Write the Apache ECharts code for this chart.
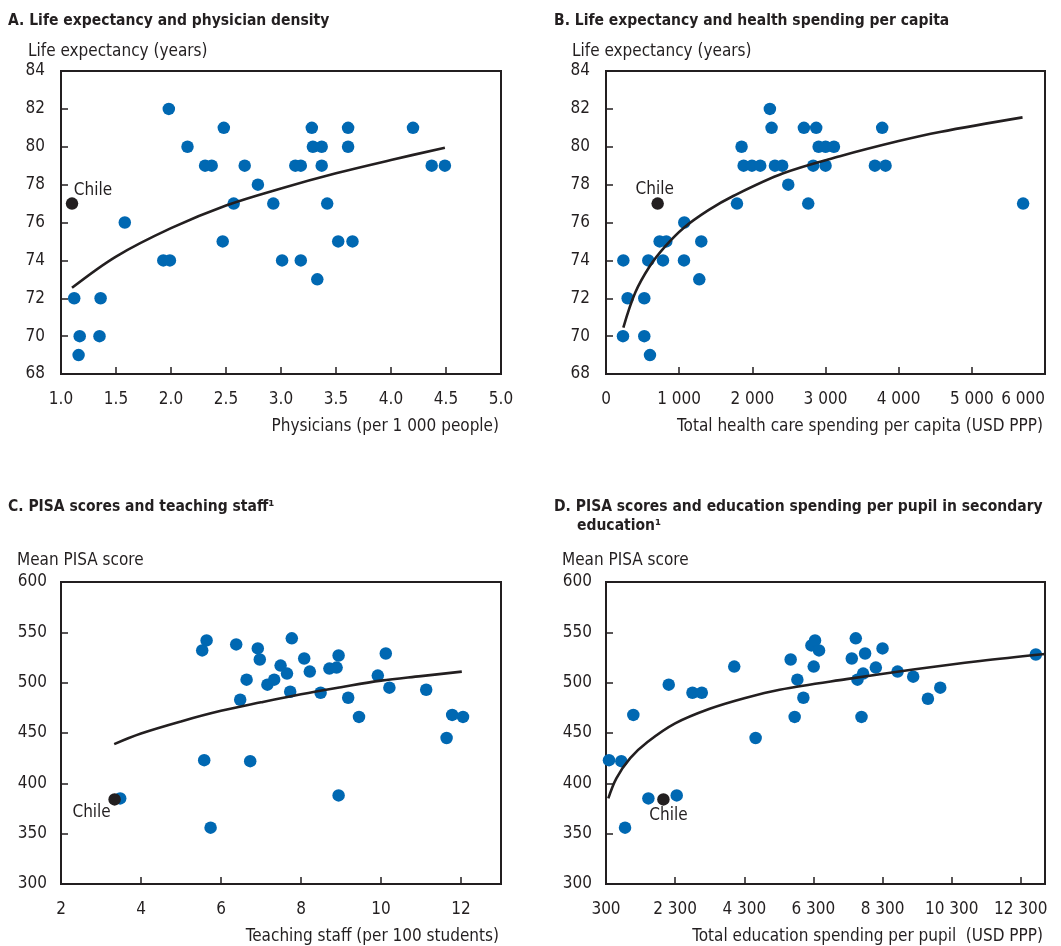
<!DOCTYPE html>
<html>
<head>
<meta charset="utf-8">
<script src="https://cdn.jsdelivr.net/npm/echarts@6/dist/echarts.min.js"></script>
<style>
  html, body { margin: 0; padding: 0; background: #ffffff; }
  #chart { width: 1061px; height: 946px; }
</style>
</head>
<body>
<div id="chart"></div>
<script>
// A. Life expectancy vs physicians per 1 000 people
const physiciansA = [1.98, 2.15, 2.31, 2.37, 2.48, 2.67, 2.79, 2.57, 2.93, 3.13, 3.18, 3.28, 3.29, 3.37, 3.37, 3.42, 3.61, 3.61, 4.20, 4.37, 4.49, 1.58, 1.93, 1.99, 2.47, 3.01, 3.18, 3.33, 3.52, 3.65, 1.12, 1.36, 1.17, 1.35, 1.16];
const lifeExpA = [82, 80, 79, 79, 81, 79, 78, 77, 77, 79, 79, 81, 80, 80, 79, 77, 81, 80, 81, 79, 79, 76, 74, 74, 75, 74, 74, 73, 75, 75, 72, 72, 70, 70, 69];
const chileA = [1.10, 77];
const trendXA = [1.10, 1.5, 2.0, 2.5, 3.0, 3.5, 4.0, 4.49];
const trendYA = [72.55, 74.2, 75.7, 76.9, 77.8, 78.6, 79.3, 79.95];

// B. Life expectancy vs total health care spending per capita
const healthSpendB = [2240, 2263, 1853, 1881, 1995, 2108, 2309, 2408, 2491, 2705, 2873, 2906, 3001, 3115, 2832, 3001, 3675, 3821, 3775, 1790, 2764, 5701, 1070, 733, 824, 1302, 237, 578, 779, 1066, 1275, 296, 523, 232, 523, 601];
const lifeExpB = [82, 81, 80, 79, 79, 79, 79, 79, 78, 81, 81, 80, 80, 80, 79, 79, 79, 79, 81, 77, 77, 77, 76, 75, 75, 75, 74, 74, 74, 74, 73, 72, 72, 70, 70, 69];
const chileB = [706, 77];
const trendXB = [237, 400, 600, 800, 1057, 1400, 1739, 2422, 3197, 4000, 4563, 5693];
const trendYB = [70.45, 72.3, 73.7, 74.7, 75.7, 76.65, 77.4, 78.6, 79.5, 80.3, 80.78, 81.55];

// C. Mean PISA score vs teaching staff per 100 students
const teachingC = [5.53, 5.64, 6.38, 6.92, 6.97, 6.64, 6.48, 7.16, 7.33, 7.49, 7.65, 7.77, 7.73, 8.08, 8.22, 8.49, 8.71, 8.89, 8.94, 9.18, 9.92, 10.12, 10.21, 11.13, 9.45, 11.78, 12.05, 11.64, 5.58, 6.73, 8.94, 3.48, 5.74];
const pisaC = [532, 542, 538, 534, 523, 503, 483, 498, 503, 517, 509, 544, 491, 524, 511, 490, 514, 515, 527, 485, 507, 529, 495, 493, 466, 468, 466, 445, 423, 422, 388, 385, 356];
const chileC = [3.34, 384];
const trendXC = [3.33, 4, 5, 6, 7, 8, 9, 10, 11, 12.02];
const trendYC = [439, 449.5, 461.5, 472, 480.5, 488.5, 495.5, 502, 506.5, 511];

// D. Mean PISA score vs education spending per pupil
const eduSpendD = [2115, 2801, 3071, 4010, 5642, 5836, 6010, 6309, 6242, 6347, 6463, 7410, 7526, 7575, 7738, 7796, 8106, 8300, 8735, 9187, 9613, 9970, 12735, 1091, 5758, 7691, 4628, 387, 743, 1526, 2346, 851];
const pisaD = [498, 490, 490, 516, 523, 503, 485, 516, 537, 542, 532, 524, 544, 503, 509, 529, 515, 534, 511, 506, 484, 495, 528, 468, 466, 466, 445, 423, 422, 385, 388, 356];
const chileD = [1961, 384];
const trendXD = [367, 600, 1000, 1500, 2300, 3300, 4300, 5323, 7256, 9187, 11120, 13000];
const trendYD = [385, 405, 425, 441, 459.5, 474, 484.5, 493, 503.5, 513, 521.5, 528.5];

// Text
const panelTitles = [
  'A. Life expectancy and physician density',
  'B. Life expectancy and health spending per capita',
  'C. PISA scores and teaching staff\u00B9',
  'D. PISA scores and education spending per pupil in secondary',
  'education\u00B9'
];
const yNames = ['Life expectancy (years)', 'Life expectancy (years)', 'Mean PISA score', 'Mean PISA score'];
const xNames = ['Physicians (per 1 000 people)', 'Total health care spending per capita (USD PPP)', 'Teaching staff (per 100 students)', 'Total education spending per pupil  (USD PPP)'];
const chileLabel = 'Chile';

const FONT = '"Liberation Sans Narrow", "DejaVu Sans Condensed", "Roboto Condensed", "Liberation Sans", sans-serif';
const INK = '#231f20';
const BLUE = '#0068b2';

const zip = (xs, ys) => xs.map((x, i) => [x, ys[i]]);
const spaced = v => String(v).replace(/\B(?=(\d{3})+(?!\d))/g, ' ');

const grids = [
  { left: 61, top: 71, width: 440, height: 303 },
  { left: 606, top: 71, width: 439, height: 303 },
  { left: 61, top: 582, width: 440, height: 302 },
  { left: 606, top: 582, width: 439, height: 302 }
].map(g => Object.assign({ show: true, borderColor: INK, borderWidth: 2, backgroundColor: 'transparent' }, g));

function xAxis(i, min, max, interval, fmt, extraLabel) {
  return {
    type: 'value', gridIndex: i, min, max, interval,
    axisLine: { show: true, onZero: false, lineStyle: { color: INK, width: 2 } },
    axisTick: { show: true, inside: true, length: 7, lineStyle: { color: INK, width: 1.5 } },
    splitLine: { show: false },
    axisLabel: Object.assign({ color: INK, fontFamily: FONT, fontSize: 17, margin: 17, formatter: fmt }, extraLabel || {})
  };
}
function yAxis(i, min, max, interval, margin) {
  return {
    type: 'value', gridIndex: i, min, max, interval,
    axisLine: { show: true, onZero: false, lineStyle: { color: INK, width: 2 } },
    axisTick: { show: true, inside: true, length: 7, lineStyle: { color: INK, width: 1.5 } },
    splitLine: { show: false },
    axisLabel: { color: INK, fontFamily: FONT, fontSize: 17, margin: margin }
  };
}

const xAxes = [
  xAxis(0, 1, 5, 0.5, v => v.toFixed(1)),
  xAxis(1, 0, 6000, 1000, v => spaced(v), { alignMaxLabel: 'right' }),
  xAxis(2, 2, 13, 2, v => String(v), { showMaxLabel: false }),
  xAxis(3, 300, 13000, 2000, v => spaced(v), { showMaxLabel: false })
];
const yAxes = [
  yAxis(0, 68, 84, 2, 16),
  yAxis(1, 68, 84, 2, 16),
  yAxis(2, 300, 600, 50, 14),
  yAxis(3, 300, 600, 50, 14)
];

function dots(i, xs, ys) {
  return {
    type: 'scatter', xAxisIndex: i, yAxisIndex: i, data: zip(xs, ys),
    symbolSize: 12.5, itemStyle: { color: BLUE, opacity: 1 }, z: 2, silent: true
  };
}
function chile(i, pt, offset) {
  return {
    type: 'scatter', xAxisIndex: i, yAxisIndex: i, data: [pt],
    symbolSize: 12.5, itemStyle: { color: INK, opacity: 1 }, z: 4, silent: true,
    label: {
      show: true, formatter: chileLabel, position: 'inside', offset: offset,
      color: INK, opacity: 1, fontFamily: FONT, fontSize: 17, align: 'center', verticalAlign: 'middle'
    }
  };
}
// Trend curves drawn as a smoothed line through points
function trend(i, xs, ys) {
  return {
    type: 'line', xAxisIndex: i, yAxisIndex: i, data: zip(xs, ys),
    smooth: 0.35, showSymbol: false, symbol: 'none', z: 3, silent: true,
    lineStyle: { color: INK, width: 2.6 }
  };
}

const series = [
  dots(0, physiciansA, lifeExpA), trend(0, trendXA, trendYA), chile(0, chileA, [21, -13]),
  dots(1, healthSpendB, lifeExpB), trend(1, trendXB, trendYB), chile(1, chileB, [-3, -14]),
  dots(2, teachingC, pisaC), trend(2, trendXC, trendYC), chile(2, chileC, [-23, 13]),
  dots(3, eduSpendD, pisaD), trend(3, trendXD, trendYD), chile(3, chileD, [5, 16.5])
];

function txt(text, x, y, opts) {
  return {
    type: 'text', x: x, y: y, silent: true,
    style: Object.assign({ text: text, fill: INK, font: '17px ' + FONT, align: 'left', verticalAlign: 'middle' }, opts || {})
  };
}
const TITLE_FONT = 'bold 15.5px ' + FONT;
const graphic = [
  txt(panelTitles[0], 8, 21, { font: TITLE_FONT }),
  txt(panelTitles[1], 554, 21, { font: TITLE_FONT }),
  txt(panelTitles[2], 8, 507, { font: TITLE_FONT }),
  txt(panelTitles[3], 554, 507, { font: TITLE_FONT }),
  txt(panelTitles[4], 577, 526, { font: TITLE_FONT }),
  txt(yNames[0], 28, 52),
  txt(yNames[1], 572, 52),
  txt(yNames[2], 17, 561),
  txt(yNames[3], 562, 561),
  txt(xNames[0], 499, 427, { align: 'right' }),
  txt(xNames[1], 1043, 427, { align: 'right' }),
  txt(xNames[2], 499, 937, { align: 'right' }),
  txt(xNames[3], 1043, 937, { align: 'right' })
];

const chart = echarts.init(document.getElementById('chart'), null, { renderer: 'canvas' });
chart.setOption({
  animation: false,
  backgroundColor: '#ffffff',
  grid: grids,
  xAxis: xAxes,
  yAxis: yAxes,
  series: series,
  graphic: graphic
});
</script>
</body>
</html>
